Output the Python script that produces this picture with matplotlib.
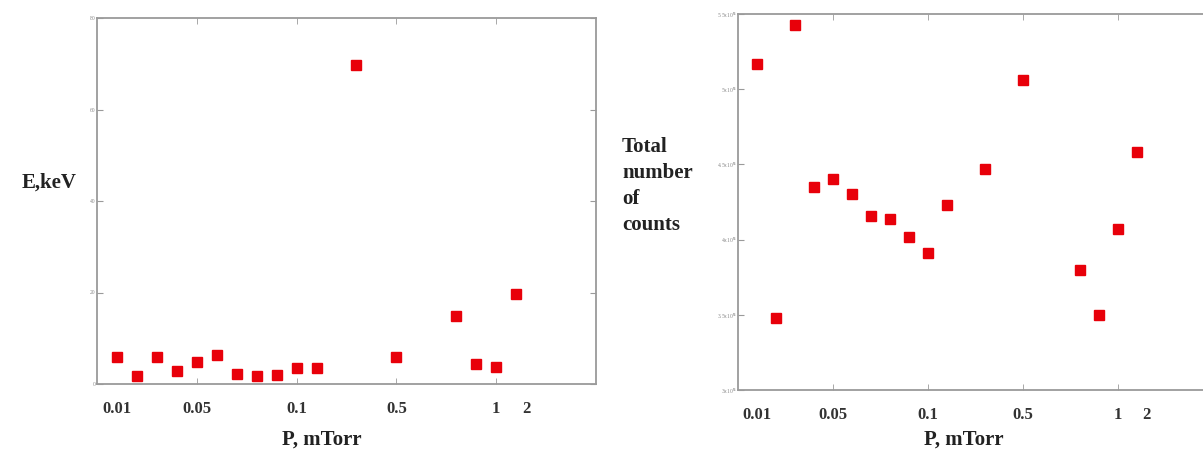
import matplotlib
matplotlib.use("Agg")
import matplotlib.pyplot as plt
from matplotlib.ticker import FixedLocator, NullFormatter

plt.rcParams.update({
    "font.family": "serif",
    "font.serif": ["Liberation Serif", "DejaVu Serif"],
    "font.weight": "bold",
})

# ── data ──────────────────────────────────────────────────────────────────────
# measurement slot on the x axis (the original plots points by run order)
slot = [0, 1, 2, 3, 4, 5, 6, 7, 8, 9, 10, 12, 14, 17, 18, 19, 20]

energy_kev = [5.8, 1.8, 5.8, 2.9, 4.9, 6.3, 2.2, 1.8, 2.0, 3.5, 3.6,
              69.7, 5.8, 14.9, 4.4, 3.8, 19.7]

counts_1e5 = [5.17, 3.48, 5.43, 4.35, 4.40, 4.30, 4.16, 4.14, 4.02, 3.91, 4.23,
              4.47, 5.06, 3.80, 3.50, 4.07, 4.58]

p_label_pos = [0, 4, 9, 14, 19, 20.5]
p_labels = ["0.01", "0.05", "0.1", "0.5", "1", "2"]
tick_slots = [4, 9, 14, 19]

e_ticks = [0, 20, 40, 60, 80]
e_ticklabels = ["0", "20", "40", "60", "80"]
c_ticks = [3.0, 3.5, 4.0, 4.5, 5.0, 5.5]
c_ticklabels = ["3x10$^5$", "3.5x10$^5$", "4x10$^5$", "4.5x10$^5$", "5x10$^5$", "5.5x10$^5$"]

RED = "#e8000a"
SPINE = "#9a9a9a"

fig = plt.figure(figsize=(12.03, 4.59), dpi=100)
ax1 = fig.add_axes([97/1203, 75/459, 499/1203, 366/459])
ax2 = fig.add_axes([738/1203, 69/459, 475/1203, 376/459])


def style(ax, yticks, yticklabels, ylim):
    ax.set_xlim(-1, 24)
    ax.set_ylim(*ylim)
    for sp in ax.spines.values():
        sp.set_color(SPINE)
        sp.set_linewidth(1.3)
    # pressure labels as major ticks (no marks), tick marks as minor ticks
    ax.xaxis.remove_overlapping_locs = False
    ax.set_xticks(p_label_pos)
    ax.set_xticklabels(p_labels)
    ax.xaxis.set_minor_locator(FixedLocator(tick_slots))
    ax.xaxis.set_minor_formatter(NullFormatter())
    ax.tick_params(axis="x", which="major", length=0, pad=12,
                   labelsize=12, labelcolor="#333333")
    ax.tick_params(axis="x", which="minor", direction="in", length=4,
                   color=SPINE, top=True, bottom=True)
    ax.set_yticks(yticks)
    ax.set_yticklabels(yticklabels)
    ax.tick_params(axis="y", direction="in", length=4, color=SPINE,
                   left=True, right=True, labelsize=4, labelcolor="#888888",
                   pad=1)
    for lbl in ax.get_yticklabels():
        lbl.set_fontweight("normal")


ax1.plot(slot, energy_kev, "s", color=RED, markersize=7.5, linestyle="none")
style(ax1, e_ticks, e_ticklabels, (0, 80))

ax2.plot(slot, counts_1e5, "s", color=RED, markersize=7.5, linestyle="none")
style(ax2, c_ticks, c_ticklabels, (3.0, 5.5))

fig.text(22/1203, 1 - 183/459, "E,keV", fontsize=15, fontweight="bold",
         ha="left", va="center", color="#222222")
fig.text(622/1203, 1 - 186/459, "Total\nnumber\nof\ncounts", fontsize=15,
         fontweight="bold", ha="left", va="center", linespacing=1.4,
         color="#222222")
fig.text(322/1203, 1 - 440/459, "P, mTorr", fontsize=15, fontweight="bold",
         ha="center", va="center", color="#222222")
fig.text(964/1203, 1 - 440/459, "P, mTorr", fontsize=15, fontweight="bold",
         ha="center", va="center", color="#222222")

fig.savefig("out.png", dpi=100)
